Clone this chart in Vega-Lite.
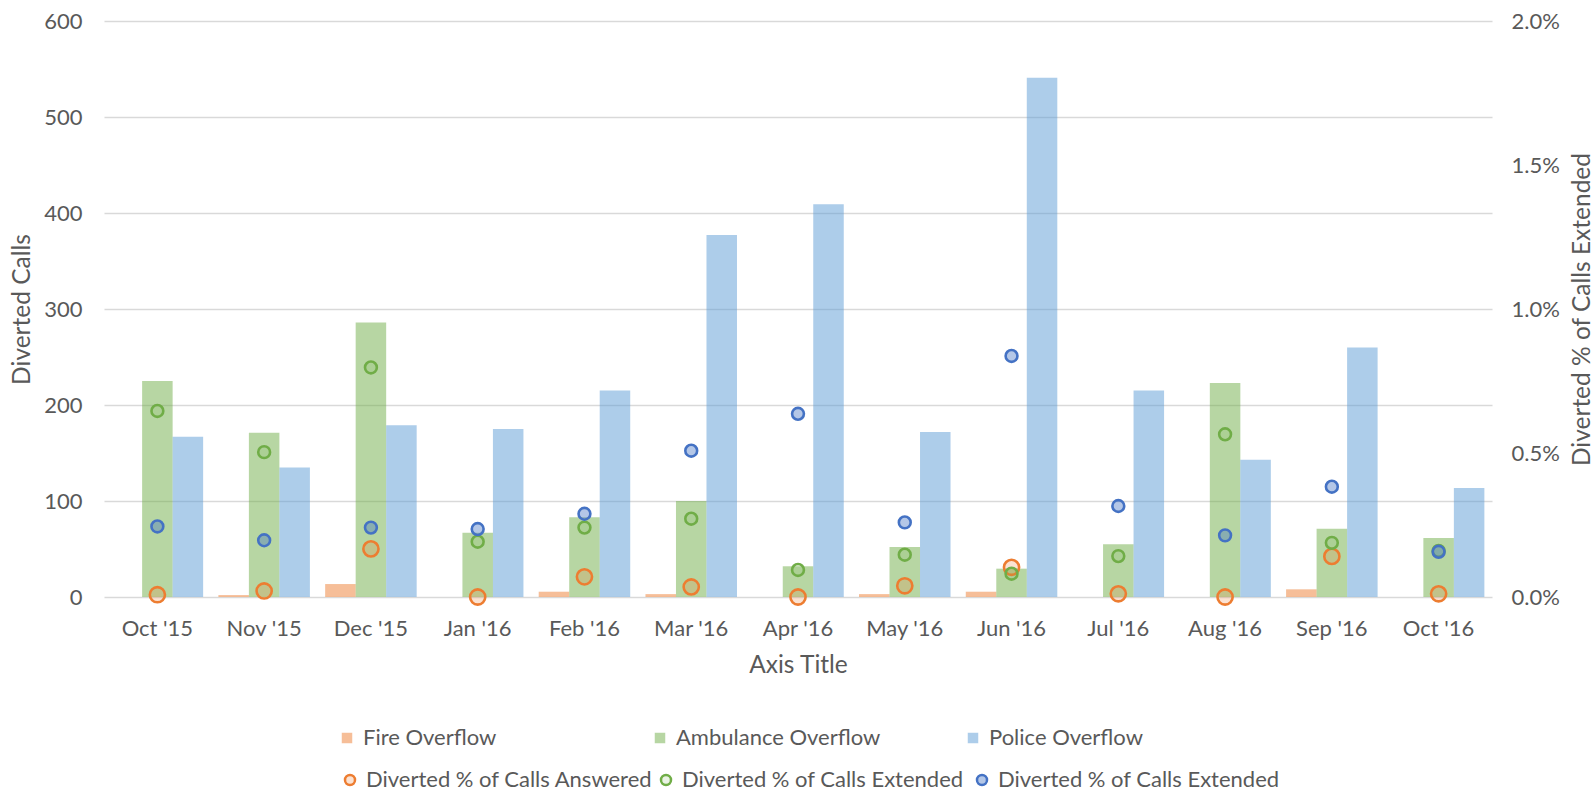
{
  "$schema": "https://vega.github.io/schema/vega-lite/v6.json",
  "width": 1388,
  "height": 576,
  "autosize": {"type": "none"},
  "padding": {"left": 104, "top": 21, "right": 103, "bottom": 195},
  "background": "white",
  "config": {
    "view": {"stroke": null},
    "font": "Lato",
    "axis": {
      "labelFont": "Lato",
      "labelFontSize": 22,
      "labelColor": "#595959",
      "titleFont": "Lato",
      "titleFontSize": 24.5,
      "titleFontWeight": "normal",
      "titleColor": "#595959",
      "ticks": false,
      "tickSize": 0,
      "domain": false,
      "gridColor": "#D9D9D9",
      "gridWidth": 1.3
    },
    "legend": {
      "labelFont": "Lato",
      "labelFontSize": 22,
      "labelColor": "#595959",
      "labelLimit": 500,
      "padding": 0,
      "labelOffset": 5
    }
  },
  "datasets": {
    "bars": [
      {"month": "Oct '15", "series": "Fire Overflow", "calls": 0},
      {"month": "Oct '15", "series": "Ambulance Overflow", "calls": 225},
      {"month": "Oct '15", "series": "Police Overflow", "calls": 167},
      {"month": "Nov '15", "series": "Fire Overflow", "calls": 2},
      {"month": "Nov '15", "series": "Ambulance Overflow", "calls": 171},
      {"month": "Nov '15", "series": "Police Overflow", "calls": 135},
      {"month": "Dec '15", "series": "Fire Overflow", "calls": 13.5},
      {"month": "Dec '15", "series": "Ambulance Overflow", "calls": 286},
      {"month": "Dec '15", "series": "Police Overflow", "calls": 179},
      {"month": "Jan '16", "series": "Fire Overflow", "calls": 0},
      {"month": "Jan '16", "series": "Ambulance Overflow", "calls": 67},
      {"month": "Jan '16", "series": "Police Overflow", "calls": 175},
      {"month": "Feb '16", "series": "Fire Overflow", "calls": 5.5},
      {"month": "Feb '16", "series": "Ambulance Overflow", "calls": 83},
      {"month": "Feb '16", "series": "Police Overflow", "calls": 215},
      {"month": "Mar '16", "series": "Fire Overflow", "calls": 3},
      {"month": "Mar '16", "series": "Ambulance Overflow", "calls": 100},
      {"month": "Mar '16", "series": "Police Overflow", "calls": 377},
      {"month": "Apr '16", "series": "Fire Overflow", "calls": 0},
      {"month": "Apr '16", "series": "Ambulance Overflow", "calls": 32},
      {"month": "Apr '16", "series": "Police Overflow", "calls": 409},
      {"month": "May '16", "series": "Fire Overflow", "calls": 3},
      {"month": "May '16", "series": "Ambulance Overflow", "calls": 52},
      {"month": "May '16", "series": "Police Overflow", "calls": 172},
      {"month": "Jun '16", "series": "Fire Overflow", "calls": 5.5},
      {"month": "Jun '16", "series": "Ambulance Overflow", "calls": 29.5},
      {"month": "Jun '16", "series": "Police Overflow", "calls": 541},
      {"month": "Jul '16", "series": "Fire Overflow", "calls": 0},
      {"month": "Jul '16", "series": "Ambulance Overflow", "calls": 55},
      {"month": "Jul '16", "series": "Police Overflow", "calls": 215},
      {"month": "Aug '16", "series": "Fire Overflow", "calls": 0},
      {"month": "Aug '16", "series": "Ambulance Overflow", "calls": 223},
      {"month": "Aug '16", "series": "Police Overflow", "calls": 143},
      {"month": "Sep '16", "series": "Fire Overflow", "calls": 8},
      {"month": "Sep '16", "series": "Ambulance Overflow", "calls": 71},
      {"month": "Sep '16", "series": "Police Overflow", "calls": 260},
      {"month": "Oct '16", "series": "Fire Overflow", "calls": 0},
      {"month": "Oct '16", "series": "Ambulance Overflow", "calls": 61.5},
      {"month": "Oct '16", "series": "Police Overflow", "calls": 113.5}
    ],
    "pts": [
      {"month": "Oct '15", "metric": "answered", "pct": 0.00008},
      {"month": "Oct '15", "metric": "extended_amb", "pct": 0.00646},
      {"month": "Oct '15", "metric": "extended_pol", "pct": 0.00245},
      {"month": "Nov '15", "metric": "answered", "pct": 0.00021},
      {"month": "Nov '15", "metric": "extended_amb", "pct": 0.00503},
      {"month": "Nov '15", "metric": "extended_pol", "pct": 0.00197},
      {"month": "Dec '15", "metric": "answered", "pct": 0.00167},
      {"month": "Dec '15", "metric": "extended_amb", "pct": 0.00797},
      {"month": "Dec '15", "metric": "extended_pol", "pct": 0.00241},
      {"month": "Jan '16", "metric": "answered", "pct": 0},
      {"month": "Jan '16", "metric": "extended_amb", "pct": 0.00192},
      {"month": "Jan '16", "metric": "extended_pol", "pct": 0.00236},
      {"month": "Feb '16", "metric": "answered", "pct": 0.0007},
      {"month": "Feb '16", "metric": "extended_amb", "pct": 0.00241},
      {"month": "Feb '16", "metric": "extended_pol", "pct": 0.00289},
      {"month": "Mar '16", "metric": "answered", "pct": 0.00035},
      {"month": "Mar '16", "metric": "extended_amb", "pct": 0.00272},
      {"month": "Mar '16", "metric": "extended_pol", "pct": 0.00508},
      {"month": "Apr '16", "metric": "answered", "pct": 0},
      {"month": "Apr '16", "metric": "extended_amb", "pct": 0.00094},
      {"month": "Apr '16", "metric": "extended_pol", "pct": 0.00636},
      {"month": "May '16", "metric": "answered", "pct": 0.00039},
      {"month": "May '16", "metric": "extended_amb", "pct": 0.00147},
      {"month": "May '16", "metric": "extended_pol", "pct": 0.00259},
      {"month": "Jun '16", "metric": "answered", "pct": 0.00103},
      {"month": "Jun '16", "metric": "extended_amb", "pct": 0.00081},
      {"month": "Jun '16", "metric": "extended_pol", "pct": 0.00837},
      {"month": "Jul '16", "metric": "answered", "pct": 0.00011},
      {"month": "Jul '16", "metric": "extended_amb", "pct": 0.00142},
      {"month": "Jul '16", "metric": "extended_pol", "pct": 0.00316},
      {"month": "Aug '16", "metric": "answered", "pct": 0},
      {"month": "Aug '16", "metric": "extended_amb", "pct": 0.00565},
      {"month": "Aug '16", "metric": "extended_pol", "pct": 0.00214},
      {"month": "Sep '16", "metric": "answered", "pct": 0.00141},
      {"month": "Sep '16", "metric": "extended_amb", "pct": 0.00188},
      {"month": "Sep '16", "metric": "extended_pol", "pct": 0.00383},
      {"month": "Oct '16", "metric": "answered", "pct": 0.00011},
      {"month": "Oct '16", "metric": "extended_amb", "pct": 0.0016},
      {"month": "Oct '16", "metric": "extended_pol", "pct": 0.00157}
    ]
  },
  "layer": [
    {
      "data": {"name": "bars"},
      "mark": {"type": "bar", "opacity": 0.5},
      "encoding": {
        "x": {
          "field": "month", "type": "nominal",
          "sort": ["Oct '15", "Nov '15", "Dec '15", "Jan '16", "Feb '16", "Mar '16", "Apr '16", "May '16", "Jun '16", "Jul '16", "Aug '16", "Sep '16", "Oct '16"],
          "scale": {"paddingInner": 0.1429, "paddingOuter": 0.0714},
          "axis": {"title": "Axis Title", "labelAngle": 0, "labelPadding": 21, "titlePadding": 14}
        },
        "xOffset": {
          "field": "series", "type": "nominal",
          "sort": ["Fire Overflow", "Ambulance Overflow", "Police Overflow"],
          "scale": {"paddingInner": 0, "paddingOuter": 0}
        },
        "y": {
          "field": "calls", "type": "quantitative",
          "scale": {"domain": [0, 600]},
          "axis": {"title": "Diverted Calls", "values": [0, 100, 200, 300, 400, 500, 600], "grid": true, "labelPadding": 22, "titlePadding": 9}
        },
        "color": {
          "field": "series", "type": "nominal",
          "sort": ["Fire Overflow", "Ambulance Overflow", "Police Overflow"],
          "scale": {"domain": ["Fire Overflow", "Ambulance Overflow", "Police Overflow"], "range": ["#ED7D31", "#70AD47", "#5B9BD5"]},
          "legend": {
            "title": null, "orient": "none", "legendX": 232, "legendY": 706,
            "direction": "horizontal", "columns": 3, "gridAlign": "all", "columnPadding": 81,
            "symbolType": "square", "symbolSize": 110, "symbolOpacity": 0.5
          }
        }
      }
    },
    {
      "data": {"name": "pts"},
      "mark": {"type": "point", "shape": "circle", "strokeWidth": 2.6, "opacity": 1},
      "encoding": {
        "x": {"field": "month", "type": "nominal", "sort": ["Oct '15", "Nov '15", "Dec '15", "Jan '16", "Feb '16", "Mar '16", "Apr '16", "May '16", "Jun '16", "Jul '16", "Aug '16", "Sep '16", "Oct '16"]},
        "y": {
          "field": "pct", "type": "quantitative",
          "scale": {"domain": [0, 0.02]},
          "axis": {"orient": "right", "title": "Diverted % of Calls Extended", "format": ".1%", "values": [0, 0.005, 0.01, 0.015, 0.02], "grid": false, "labelPadding": 19, "titlePadding": 11, "titleAngle": 270, "titleBaseline": "top"}
        },
        "stroke": {
          "field": "metric", "type": "nominal",
          "scale": {"domain": ["answered", "extended_amb", "extended_pol"], "range": ["#ED7D31", "#70AD47", "#4472C4"]},
          "legend": {
            "title": null, "orient": "none", "legendX": 235, "legendY": 748,
            "direction": "horizontal", "columns": 3, "gridAlign": "all", "columnPadding": 2,
            "symbolType": "circle", "symbolSize": 100, "symbolStrokeWidth": 2.5,
            "labelExpr": "datum.label == 'answered' ? 'Diverted % of Calls Answered' : 'Diverted % of Calls Extended'"
          }
        },
        "fill": {
          "field": "metric", "type": "nominal",
          "scale": {"domain": ["answered", "extended_amb", "extended_pol"], "range": ["rgba(237,125,49,0.22)", "rgba(112,173,71,0.15)", "rgba(68,114,196,0.4)"]},
          "legend": {
            "title": null, "orient": "none", "legendX": 235, "legendY": 748,
            "direction": "horizontal", "columns": 3, "gridAlign": "all", "columnPadding": 2,
            "symbolType": "circle", "symbolSize": 100, "symbolStrokeWidth": 2.5,
            "labelExpr": "datum.label == 'answered' ? 'Diverted % of Calls Answered' : 'Diverted % of Calls Extended'"
          }
        },
        "size": {
          "field": "metric", "type": "nominal",
          "scale": {"type": "ordinal", "domain": ["extended_amb", "extended_pol", "answered"], "range": [140, 140, 230]},
          "legend": null
        }
      }
    }
  ],
  "resolve": {"scale": {"y": "independent"}}
}
